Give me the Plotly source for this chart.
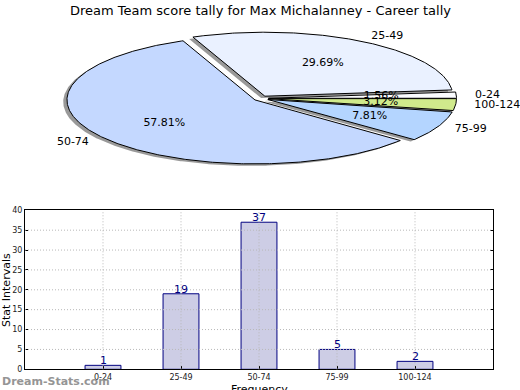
import numpy as np
import plotly.graph_objects as go

# ---- data ----
categories = ["0-24", "25-49", "50-74", "75-99", "100-124"]
counts = [1, 19, 37, 5, 2]
pie_colors = ["#fbfcff", "#eaf1ff", "#c4d8ff", "#b4d5ff", "#d0ea8c"]
title = "Dream Team score tally for Max Michalanney - Career tally"
y_ticks = [0, 5, 10, 15, 20, 25, 30, 35, 40]

# ---- pie geometry (unit circle, squashed by axis scaling) ----
W, H = 520, 390
rx, ry = 188.0, 64.0          # px per unit
cx, cy = 261.0, 98.4          # px, centre
explode = 0.04
total = sum(counts)
fracs = [c / total for c in counts]

fig = go.Figure()

start = 0.0
slices = []
for lab, f, col in zip(categories, fracs, pie_colors):
    a0, a1 = start, start + 360 * f
    start = a1
    mid = np.deg2rad((a0 + a1) / 2)
    ox, oy = explode * np.cos(mid), explode * np.sin(mid)
    th = np.deg2rad(np.linspace(a0, a1, max(3, int((a1 - a0) * 2))))
    xs = np.concatenate([[ox], ox + np.cos(th), [ox]])
    ys = np.concatenate([[oy], oy + np.sin(th), [oy]])
    slices.append((lab, f, col, xs, ys, mid, ox, oy))

# shadows
for lab, f, col, xs, ys, mid, ox, oy in slices:
    fig.add_trace(go.Scatter(x=xs - 0.02, y=ys - 0.03, mode="lines", fill="toself",
                             fillcolor="rgba(110,110,110,0.7)", line=dict(width=0),
                             hoverinfo="skip", showlegend=False, xaxis="x", yaxis="y"))
for lab, f, col, xs, ys, mid, ox, oy in slices:
    fig.add_trace(go.Scatter(x=xs, y=ys, mode="lines", fill="toself", fillcolor=col,
                             line=dict(color="black", width=1), hoverinfo="skip",
                             showlegend=False, xaxis="x", yaxis="y"))
# percentage texts
fig.add_trace(go.Scatter(
    x=[s[6] + 0.6 * np.cos(s[5]) for s in slices],
    y=[s[7] + 0.6 * np.sin(s[5]) for s in slices],
    mode="text", text=["%.2f%%" % (100 * s[1]) for s in slices],
    textfont=dict(family="DejaVu Sans", size=11, color="black"),
    textposition="middle center", hoverinfo="skip", showlegend=False,
    xaxis="x", yaxis="y"))
# labels
for s in slices:
    lx = s[6] + 1.1 * np.cos(s[5])
    ly = s[7] + 1.1 * np.sin(s[5])
    fig.add_trace(go.Scatter(
        x=[lx], y=[ly], mode="text", text=[s[0]],
        textfont=dict(family="DejaVu Sans", size=11, color="black"),
        textposition="middle right" if lx >= 0 else "middle left",
        hoverinfo="skip", showlegend=False, xaxis="x", yaxis="y"))

# ---- bar chart ----
fig.add_trace(go.Bar(
    x=categories, y=counts, width=0.46,
    marker=dict(color="#cdcde5", line=dict(color="#000080", width=1)),
    showlegend=False, xaxis="x2", yaxis="y2"))

bar_labels = [dict(x=c, y=v, xref="x2", yref="y2", text=str(v), showarrow=False,
                   yanchor="bottom", xanchor="center", yshift=-4,
                   font=dict(family="DejaVu Sans", size=11, color="#000080"))
              for c, v in zip(categories, counts)]

# dotted grid drawn above the bars, as in the reference
grid_shapes = [dict(type="line", xref="x2 domain", yref="y2", x0=0, x1=1, y0=t, y1=t,
                    line=dict(color="#b8b8b8", width=1, dash="1px,2px"), layer="above")
               for t in y_ticks[1:-1]]
grid_shapes += [dict(type="line", xref="x2", yref="y2 domain", x0=c, x1=c, y0=0, y1=1,
                     line=dict(color="#b8b8b8", width=1, dash="1px,2px"), layer="above")
                for c in categories]

fig.update_layout(
    width=W, height=H, margin=dict(l=0, r=0, t=0, b=0, autoexpand=False),
    paper_bgcolor="white", plot_bgcolor="white",
    font=dict(family="DejaVu Sans", color="black"),
    xaxis=dict(domain=[0, 1], range=[-cx / rx, (W - cx) / rx], visible=False, fixedrange=True),
    yaxis=dict(domain=[0, 1], range=[-(H - cy) / ry, cy / ry], visible=False, fixedrange=True),
    xaxis2=dict(domain=[25 / W, 493 / W], anchor="y2", range=[-1, 5], type="category",
                showline=True, linecolor="black", linewidth=1, mirror=True,
                ticks="inside", ticklen=3, tickcolor="black", showgrid=False,
                tickfont=dict(size=8, color="#222"), layer="above traces"),
    yaxis2=dict(domain=[(H - 369.3) / H, (H - 210.3) / H], anchor="x2", range=[0, 40],
                tickvals=y_ticks, showgrid=False,
                showline=True, linecolor="black", linewidth=1, mirror="ticks",
                ticks="inside", ticklen=3, tickcolor="black",
                zeroline=False, tickfont=dict(size=8, color="#222"), layer="above traces"),
    shapes=grid_shapes,
    annotations=[
        dict(text=title, x=260 / W, y=1 - 10 / H, xref="paper", yref="paper",
             showarrow=False, font=dict(size=13, color="black"), xanchor="center", yanchor="middle"),
        dict(text="Stat Intervals", x=6 / W, y=1 - 290 / H, xref="paper", yref="paper",
             showarrow=False, textangle=-90, font=dict(size=11, color="black"),
             xanchor="center", yanchor="middle"),
        dict(text="Frequency", x=259 / W, y=1 - 389 / H, xref="paper", yref="paper",
             showarrow=False, font=dict(size=11, color="black"), xanchor="center", yanchor="middle"),
        dict(text="<b>Dream-Stats.com</b>", x=0, y=1 - 381 / H, xref="paper", yref="paper",
             showarrow=False, font=dict(size=11, color="#959595"), xanchor="left", yanchor="middle"),
    ] + bar_labels,
)

fig.write_html("out.html", config={"displayModeBar": False},
               post_script="document.body.style.margin='0';document.body.style.overflow='hidden';")
